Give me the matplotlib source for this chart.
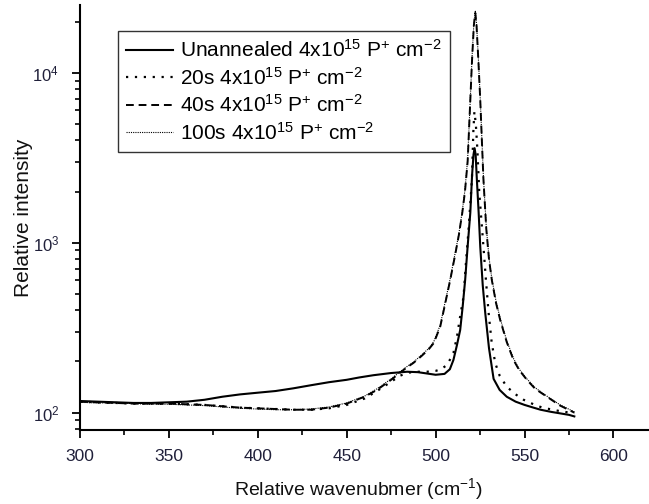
import matplotlib
matplotlib.use("Agg")
from matplotlib import pyplot as plt
from matplotlib.ticker import MultipleLocator, LogLocator, NullFormatter

# Raman spectra (wavenumber in cm^-1, intensity)
wn_unann = [300, 310, 320, 330, 340, 350, 360, 370, 380, 390, 400, 410, 420, 430,
            440, 450, 457, 465, 475, 484, 490, 495, 500, 505, 508, 510, 512, 513.8,
            515.2, 516.6, 518, 519.5, 520.5, 521.3, 521.9, 522.5, 523.2, 524.2, 525.1,
            526.5, 527.9, 530, 532.6, 536, 540, 545, 550, 555, 559, 565, 570, 575, 578]
int_unann = [117, 116, 115, 114, 114, 115, 116, 119, 124, 128, 131, 134, 139, 145,
             151, 156, 161, 166, 171, 174, 173, 170, 167, 169, 180, 204, 250, 306,
             420, 603, 950, 1500, 2500, 3300, 3600, 3300, 2340, 1500, 946,
             560, 386, 240, 158, 136, 124, 116, 111, 107, 104, 101, 99, 97, 95]

wn_20s = [300, 310, 320, 330, 340, 350, 360, 370, 380, 390, 400, 410, 420, 430, 440,
          450, 460, 467, 475, 480, 485, 490, 495, 500, 503, 506.5, 510, 512, 514,
          515.7, 517, 518.5, 520.4, 521.2, 521.8, 522.6, 523.5, 524.5, 526.9, 528.3,
          529.8, 531.5, 533.5, 536, 540, 545, 549.5, 555, 560, 570, 578]
int_20s = [116, 115, 114, 113, 113, 113, 112, 111, 109, 107, 106, 105, 104, 104, 106,
           111, 121, 134, 152, 165, 172, 174, 174, 176, 180, 191, 224, 280, 380,
           481, 750, 1190, 2340, 4500, 5900, 5000, 3500, 2000, 946, 600,
           386, 260, 196, 165, 142, 128, 119, 112, 107, 102, 99]

wn_40s = [300, 310, 320, 330, 340, 350, 360, 370, 380, 390, 400, 410, 420, 430, 440,
          450, 460, 467, 475, 480, 484, 487.5, 492, 496, 499, 502.6, 505, 508.2, 511,
          513, 515, 516.5, 518, 519.5, 520.5, 521.5, 522.3, 523, 524, 525.1, 526,
          526.9, 528.5, 530, 531.6, 534, 536.3, 540, 543.8, 547, 551.3, 556, 562.6,
          570, 578]
int_40s = [116, 115, 114, 113, 113, 113, 112, 111, 109, 107, 106, 105, 104, 104, 107,
           113, 124, 136, 156, 172, 185, 196, 215, 235, 257, 321, 420, 603, 850,
           1100, 1500, 2000, 3000, 6900, 12000, 19000, 22500, 19000, 12000, 6900, 4000,
           2340, 1200, 800, 603, 440, 351, 260, 204, 178, 156, 138, 124,
           110, 100]

wn_100s = wn_40s
int_100s = [115, 114, 114, 113, 112, 112, 111, 110, 108, 106, 105, 104, 104, 105, 108,
            114, 125, 138, 158, 174, 187, 198, 218, 238, 262, 328, 430, 615, 870,
            1120, 1540, 2050, 3100, 7000, 12500, 19500, 23000, 19500, 12300, 7000, 4100,
            2400, 1230, 820, 615, 450, 358, 265, 208, 180, 158, 140, 125,
            111, 101]

labels = [r"Unannealed 4x10$^{15}$ P$^{+}$ cm$^{-2}$",
          r"20s 4x10$^{15}$ P$^{+}$ cm$^{-2}$",
          r"40s 4x10$^{15}$ P$^{+}$ cm$^{-2}$",
          r"100s 4x10$^{15}$ P$^{+}$ cm$^{-2}$"]

plt.rcParams['font.family'] = ['Liberation Sans', 'DejaVu Sans']
plt.rcParams['mathtext.default'] = 'regular'

fig = plt.figure(figsize=(6.49, 5.04), dpi=100)
ax = fig.add_axes([0.1233, 0.1468, 0.8767, 0.843])

ax.plot(wn_unann, int_unann, color='black', lw=1.5, ls='-', label=labels[0])
ax.plot(wn_20s, int_20s, color='black', lw=1.6, ls=(0, (1, 3)), label=labels[1])
ax.plot(wn_40s, int_40s, color='black', lw=1.4, ls=(0, (4, 2.5)), label=labels[2])
ax.plot(wn_100s, int_100s, color='black', lw=0.8, ls=(0, (1, 1)), label=labels[3])

ax.set_yscale('log')
ax.set_xlim(300, 620)
ax.set_ylim(79, 25000)

ax.xaxis.set_major_locator(MultipleLocator(50))
ax.xaxis.set_minor_locator(MultipleLocator(25))
ax.yaxis.set_major_locator(LogLocator(base=10))
ax.yaxis.set_minor_locator(LogLocator(base=10, subs=range(2, 10)))
ax.yaxis.set_minor_formatter(NullFormatter())

for side in ('top', 'right'):
    ax.spines[side].set_visible(False)
for side in ('left', 'bottom'):
    ax.spines[side].set_linewidth(1.5)

lab_color = '#20203a'
ax.tick_params(which='major', direction='out', length=6, width=1.3,
               labelcolor=lab_color)
ax.tick_params(axis='x', which='major', pad=8, labelsize=12.5)
ax.tick_params(axis='y', which='major', pad=9, labelsize=12)
ax.tick_params(which='minor', direction='out', length=3.5, width=1.2)

ax.set_xlabel(r"Relative wavenubmer (cm$^{-1}$)", fontsize=14, color='#111111')
ax.set_ylabel("Relative intensity", fontsize=15, color='#111111')
ax.xaxis.set_label_coords(0.49, -0.108)
ax.yaxis.set_label_coords(-0.083, 0.5)

leg = ax.legend(loc='upper left', bbox_to_anchor=(0.182, 0.939),
                bbox_transform=fig.transFigure, borderaxespad=0, fontsize=15,
                frameon=True, fancybox=False, edgecolor='black', handlelength=2.25,
                handletextpad=0.33, borderpad=0.4, labelspacing=0.27)
leg.get_frame().set_linewidth(1.0)

fig.savefig("out.png", dpi=100)
